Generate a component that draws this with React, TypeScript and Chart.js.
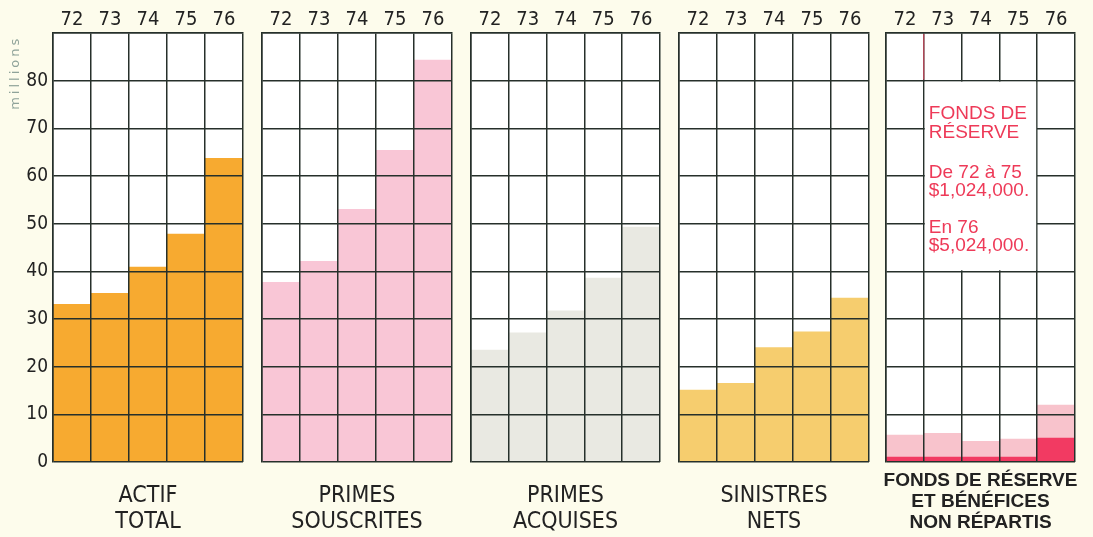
import React, { useEffect, useRef } from "react";
import { Chart, registerables } from "chart.js";

Chart.register(...registerables);

const years = ["72", "73", "74", "75", "76"];
const actifTotal = [33.1, 35.4, 40.9, 47.8, 63.7];
const primesSouscrites = [37.7, 42.1, 53.0, 65.4, 84.3];
const primesAcquises = [23.5, 27.1, 31.7, 38.6, 49.3];
const sinistresNets = [15.1, 16.5, 24.0, 27.3, 34.4];
const fondsReserve = [1.024, 1.024, 1.024, 1.024, 5.024];
const beneficesNonRepartis = [4.6, 5.0, 3.3, 3.8, 6.9];
const yMax = 90;
const yStep = 10;
const unitLabel = "millions";
const noteLines = ["FONDS DE", "RÉSERVE", "De 72 à 75", "$1,024,000.", "En 76", "$5,024,000."];

const NARROW = "'Liberation Sans Narrow', 'DejaVu Sans Condensed', 'Liberation Sans', sans-serif";
const SANS = "'Liberation Sans', Arial, sans-serif";
const GRID = "#26302b";
const BG = "#fdfcec";

type Panel = {
  left: number;
  width: number;
  title: string[];
  bold?: boolean;
  datasets: { data: number[]; color: string }[];
  showY?: boolean;
  note?: boolean;
};

const panels: Panel[] = [
  { left: 53, width: 190, title: ["ACTIF", "TOTAL"], datasets: [{ data: actifTotal, color: "#f7aa30" }], showY: true },
  { left: 262, width: 190, title: ["PRIMES", "SOUSCRITES"], datasets: [{ data: primesSouscrites, color: "#f9c6d6" }] },
  { left: 471, width: 189, title: ["PRIMES", "ACQUISES"], datasets: [{ data: primesAcquises, color: "#e9e9e2" }] },
  { left: 679, width: 190, title: ["SINISTRES", "NETS"], datasets: [{ data: sinistresNets, color: "#f6cd6e" }] },
  {
    left: 886,
    width: 189,
    title: ["FONDS DE RÉSERVE", "ET BÉNÉFICES", "NON RÉPARTIS"],
    bold: true,
    datasets: [
      { data: fondsReserve, color: "#f23a62" },
      { data: beneficesNonRepartis, color: "#f8c3cc" },
    ],
    note: true,
  },
];

const SIDE = 53;
const H = 537;

const bgPlugin = {
  id: "areaBg",
  beforeDraw(chart: any) {
    const { ctx, chartArea } = chart;
    ctx.save();
    ctx.fillStyle = "#ffffff";
    ctx.fillRect(chartArea.left, chartArea.top, chartArea.right - chartArea.left, chartArea.bottom - chartArea.top);
    ctx.restore();
  },
};

const unitPlugin = {
  id: "unitLabel",
  afterDraw(chart: any) {
    const opts = chart.options.plugins.unitLabel;
    if (!opts || !opts.show) return;
    const { ctx } = chart;
    const y = chart.scales.y;
    const cy = (y.getPixelForValue(yMax) + y.getPixelForValue(80)) / 2 + 16;
    ctx.save();
    ctx.translate(16, cy);
    ctx.rotate(-Math.PI / 2);
    ctx.fillStyle = "#8fa39a";
    ctx.font = "13px 'DejaVu Sans', sans-serif";
    (ctx as any).letterSpacing = "3px";
    ctx.textAlign = "center";
    ctx.textBaseline = "middle";
    ctx.fillText(unitLabel, 0, 0);
    ctx.restore();
  },
};

const notePlugin = {
  id: "note",
  afterDraw(chart: any) {
    const opts = chart.options.plugins.note;
    if (!opts || !opts.show) return;
    const { ctx, chartArea } = chart;
    const xs = chart.scales.x;
    const ys = chart.scales.y;
    const x1 = (xs.getPixelForValue(0) + xs.getPixelForValue(1)) / 2;
    const x2 = (xs.getPixelForValue(3) + xs.getPixelForValue(4)) / 2;
    const y1 = ys.getPixelForValue(80);
    const y2 = ys.getPixelForValue(40);
    ctx.save();
    ctx.fillStyle = "#ffffff";
    ctx.fillRect(x1 + 1, y1 + 1, x2 - x1 - 2, y2 - y1 - 2);
    ctx.strokeStyle = "#e8506a";
    ctx.lineWidth = 1;
    ctx.beginPath();
    ctx.moveTo(x1, chartArea.top + 1);
    ctx.lineTo(x1, y1 - 1);
    ctx.stroke();
    ctx.fillStyle = "#ee3a58";
    ctx.font = "19px " + SANS;
    ctx.textAlign = "left";
    ctx.textBaseline = "alphabetic";
    const offs = [38, 57, 97, 115, 152, 170];
    noteLines.forEach((t, i) => ctx.fillText(t, x1 + 5, y1 + offs[i]));
    ctx.restore();
  },
};

function PanelChart({ p }: { p: Panel }) {
  const ref = useRef<HTMLCanvasElement>(null);
  useEffect(() => {
    if (!ref.current) return;
    const lh = p.bold ? 21 : 26;
    const size = p.bold ? 19 : 23;
    const nLines = p.title.length;
    const padTop = p.bold ? 8 : 21;
    const padBottom = 75 - padTop - nLines * lh;
    const chart = new Chart(ref.current, {
      type: "bar",
      data: {
        labels: years,
        datasets: p.datasets.map((d) => ({
          data: d.data,
          backgroundColor: d.color,
          borderWidth: 0,
          barPercentage: 1,
          categoryPercentage: 1,
          yAxisID: "y",
        })),
      },
      plugins: [bgPlugin, unitPlugin, notePlugin],
      options: {
        animation: false,
        responsive: false,
        devicePixelRatio: 1,
        layout: { padding: 0 },
        plugins: {
          legend: { display: false },
          tooltip: { enabled: false },
          title: {
            display: true,
            position: "bottom",
            text: p.title,
            color: "#222222",
            font: {
              family: p.bold ? SANS : NARROW,
              size,
              weight: p.bold ? "bold" : "normal",
              lineHeight: lh / size,
            },
            padding: { top: padTop, bottom: padBottom },
          },
          unitLabel: { show: !!p.showY },
          note: { show: !!p.note },
        } as any,
        scales: {
          x: {
            type: "category",
            position: "top",
            stacked: true,
            offset: true,
            grid: { display: true, offset: true, color: GRID, lineWidth: 1.5, drawTicks: false, z: 1 },
            border: { display: true, color: GRID, width: 1.5, z: 1 },
            ticks: {
              color: "#222222",
              font: { family: NARROW, size: 20, lineHeight: 1 },
              padding: 3,
              maxRotation: 0,
              autoSkip: false,
            },
            afterFit: (s: any) => {
              s.height = 33;
            },
          },
          y: {
            type: "linear",
            position: "left",
            min: 0,
            max: yMax,
            stacked: true,
            grid: { display: true, color: GRID, lineWidth: 1.5, drawTicks: false, z: 1 },
            border: { display: true, color: GRID, width: 1.5, z: 1 },
            ticks: {
              display: !!p.showY,
              stepSize: yStep,
              color: "#222222",
              font: { family: NARROW, size: 19 },
              padding: 5,
              callback: (v: any) => (v === yMax ? "" : String(v)),
            },
            afterFit: (s: any) => {
              s.width = SIDE;
            },
          },
          yRight: {
            type: "linear",
            position: "right",
            min: 0,
            max: yMax,
            grid: { display: false },
            border: { display: false },
            ticks: { display: false },
            afterFit: (s: any) => {
              s.width = SIDE;
            },
          },
        },
      } as any,
    });
    return () => chart.destroy();
  }, [p]);
  return (
    <canvas
      ref={ref}
      width={p.width + SIDE * 2}
      height={H}
      style={{ position: "absolute", left: p.left - SIDE, top: 0, width: p.width + SIDE * 2, height: H }}
    />
  );
}

export default function App() {
  return (
    <div style={{ position: "fixed", left: 0, top: 0, width: 1093, height: 537, background: BG, overflow: "hidden" }}>
      {panels.map((p, i) => (
        <PanelChart key={i} p={p} />
      ))}
    </div>
  );
}
